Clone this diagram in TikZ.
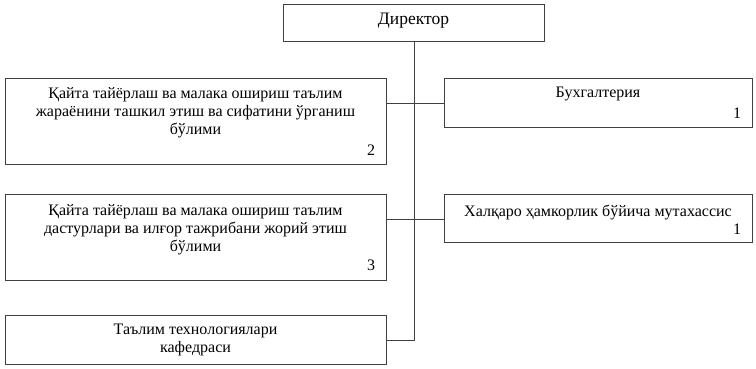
\documentclass[tikz,border=0pt]{standalone}
\usepackage{fontspec}
\setmainfont{Liberation Serif}
\begin{document}
\begin{tikzpicture}[x=1pt,y=-1pt,
  box/.style={draw=black!75,line width=0.9pt,rectangle,inner sep=0pt},
  txt/.style={font=\fontsize{16}{18}\selectfont,align=center,inner sep=0pt},
  num/.style={font=\fontsize{16}{18}\selectfont,inner sep=0pt},
  conn/.style={draw=black!75,line width=0.9pt}]
\useasboundingbox (0,0) rectangle (756,368);
% boxes
\node[box,minimum width=261pt,minimum height=37pt] (dir) at (413.5,22.5) {};
\node[box,minimum width=381pt,minimum height=86pt] (b2) at (195.5,121) {};
\node[box,minimum width=308pt,minimum height=49pt] (buh) at (598,102.5) {};
\node[box,minimum width=381pt,minimum height=86pt] (b3) at (195.5,237) {};
\node[box,minimum width=308pt,minimum height=48pt] (hal) at (598,218) {};
\node[box,minimum width=381pt,minimum height=49pt] (b4) at (195.5,339.5) {};
% texts
\node[txt,font=\fontsize{17.5}{20}\selectfont] (tdir) at (413.5,21) {Директор};
\node[txt] (t2) at (195.5,113) {Қайта тайёрлаш ва малака ошириш таълим\\жараёнини ташкил этиш ва сифатини ўрганиш\\бўлими};
\node[num] (n2) at (371,150) {2};
\node[txt] (tbuh) at (598,94) {Бухгалтерия};
\node[num] (nbuh) at (737,113) {1};
\node[txt] (t3) at (195.5,230) {Қайта тайёрлаш ва малака ошириш таълим\\дастурлари ва илғор тажрибани жорий этиш\\бўлими};
\node[num] (n3) at (371,265) {3};
\node[txt] (thal) at (598,212) {Халқаро ҳамкорлик бўйича мутахассис};
\node[num] (nhal) at (737,229) {1};
\node[txt] (t4) at (195.5,340) {Таълим технологиялари\\кафедраси};
% connectors
\coordinate (j1) at (414,103);
\coordinate (j2) at (414,219);
\coordinate (j3) at (414,340);
\draw[conn] (dir.south -| j1) -- (j3) -- (b4.east |- j3);
\draw[conn] (b2.east |- j1) -- (buh.west |- j1);
\draw[conn] (b3.east |- j2) -- (hal.west |- j2);
\end{tikzpicture}
\end{document}
